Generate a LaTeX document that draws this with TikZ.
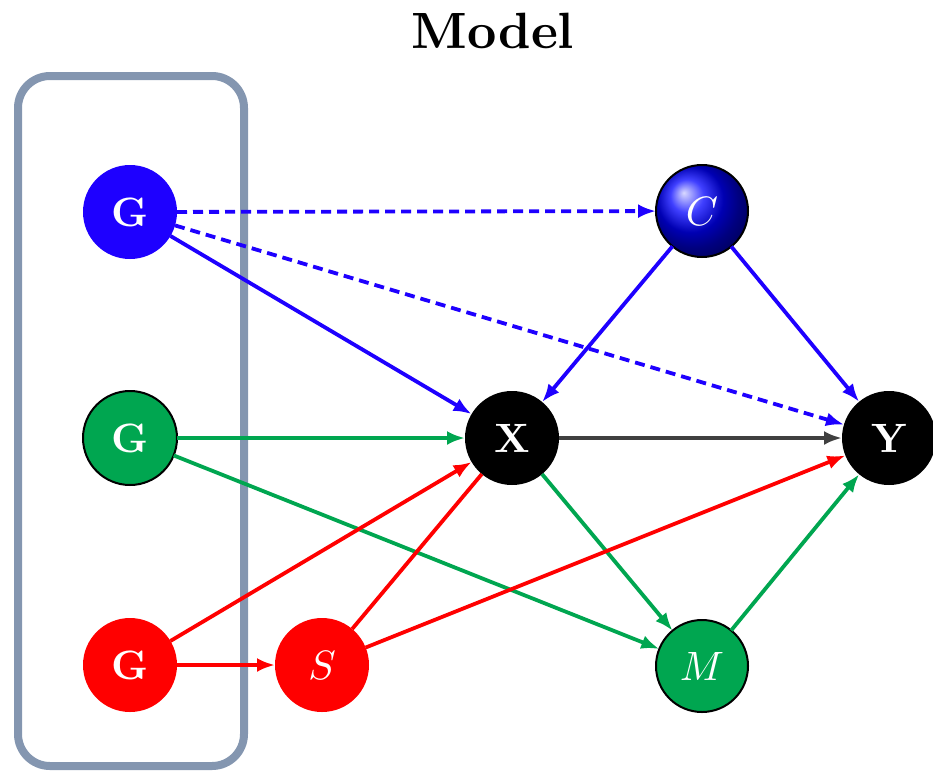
\documentclass[tikz,border=0pt]{standalone}
\usepackage{graphicx}
\usetikzlibrary{arrows.meta,shadings}
\definecolor{cblue}{RGB}{30,0,255}
\definecolor{cgreen}{RGB}{0,166,80}
\definecolor{cred}{RGB}{255,0,0}
\definecolor{cframe}{RGB}{132,150,176}
\definecolor{cgray}{RGB}{64,64,64}
\newcommand{\bigmath}[1]{\scalebox{4.1}{\fontsize{10}{12}\selectfont$#1$}}
\newcommand{\bigtxt}[1]{\scalebox{4.1}{\fontsize{10}{12}\selectfont\bfseries #1}}
\tikzset{
  vnode/.style={circle,minimum size=94pt,inner sep=0pt,outer sep=0pt,text=white},
  edge/.style={line width=3.8pt,-{Latex[length=18pt,width=14pt]}},
  plain/.style={line width=3.8pt},
  dsh/.style={dash pattern=on 10pt off 6pt}
}
\begin{document}
\begin{tikzpicture}[x=1pt,y=-1pt]
\useasboundingbox (0,0) rectangle (933,774);
\node (title) at (493,31) {\scalebox{5.1}{\fontsize{10}{12}\selectfont\bfseries Model}};
\draw[cframe,line width=8pt,rounded corners=32pt] (18,76) rectangle (244,766);
\node[vnode,fill=cblue] (gb) at (130,212) {\bigtxt{G}};
\node[vnode,fill=cgreen,draw=black,line width=2pt] (gg) at (130,438) {\bigtxt{G}};
\node[vnode,fill=cred] (gr) at (130,665) {\bigtxt{G}};
\node[vnode,fill=cred] (s) at (322,665) {\bigmath{S}};
\node[vnode,fill=black] (x) at (512,438) {\bigtxt{X}};
\node[vnode,fill=black] (y) at (889,438) {\bigtxt{Y}};
\node[vnode,ball color=blue,draw=black,line width=2pt,minimum size=92pt] (c) at (702,211) {\bigmath{C}};
\node[vnode,fill=cgreen,draw=black,line width=2pt,minimum size=92pt] (m) at (702,666) {\bigmath{M}};
\draw[edge,cblue,dsh] (gb) -- (c);
\draw[edge,cblue,dsh] (gb) -- (y);
\draw[edge,cblue] (gb) -- (x);
\draw[edge,cblue] (c) -- (x);
\draw[edge,cblue] (c) -- (y);
\draw[edge,cgreen] (gg) -- (x);
\draw[edge,cgreen] (gg) -- (m);
\draw[edge,cgray] (x) -- (y);
\draw[edge,cgreen] (x) -- (m);
\draw[edge,cgreen] (m) -- (y);
\draw[edge,cred] (gr) -- (x);
\draw[edge,cred] (gr) -- (s);
\draw[plain,cred] (s) -- (x);
\draw[edge,cred] (s) -- (y);
\end{tikzpicture}
\end{document}
